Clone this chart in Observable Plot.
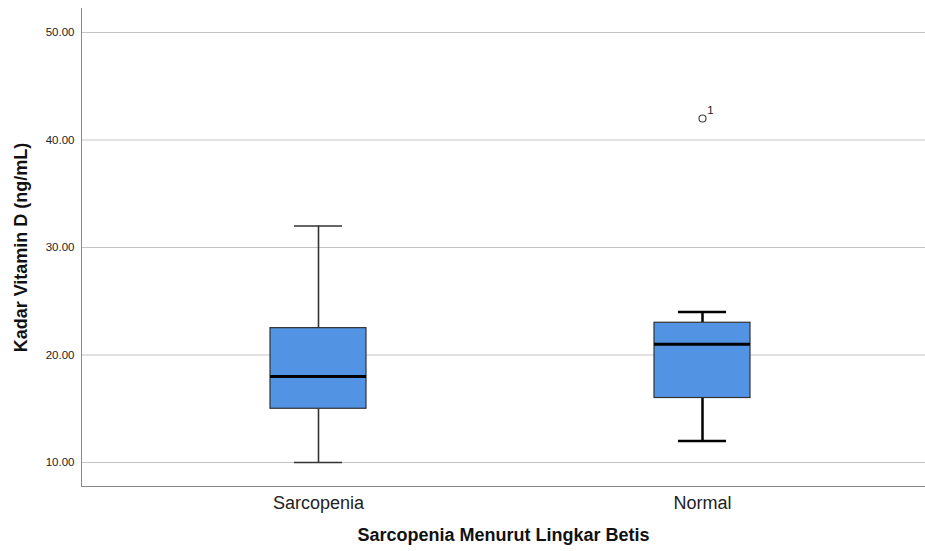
<!DOCTYPE html>
<html><head><meta charset="utf-8">
<script src="https://cdn.jsdelivr.net/npm/d3@7"></script>
<script src="https://cdn.jsdelivr.net/npm/@observablehq/plot@0.6"></script>
<style>
body{margin:0;background:#fff;font-family:"Liberation Sans",Arial,sans-serif;}
</style></head><body><div id="chart"></div>
<script>
const groups = ["Sarcopenia", "Normal"];
const mins = [10, 12];
const q1s = [15, 16];
const medians = [18, 21];
const q3s = [22.5, 23];
const maxs = [32, 24];
const outlierGroups = ["Normal"];
const outlierValues = [42];
const outlierLabels = ["1"];
const yTicks = [10, 20, 30, 40, 50];
const xTitle = "Sarcopenia Menurut Lingkar Betis";
const yTitle = "Kadar Vitamin D (ng/mL)";

const stats = groups.map((g, i) => ({group: g, min: mins[i], q1: q1s[i], median: medians[i], q3: q3s[i], max: maxs[i]}));
const outliers = outlierGroups.map((g, i) => ({group: g, value: outlierValues[i], label: outlierLabels[i]}));
const wsw = d => d.group === "Normal" ? 2.5 : 1.6;
const wst = d => d.group === "Normal" ? "#000" : "#333";

const chart = Plot.plot({
  width: 925, height: 551,
  marginLeft: 81, marginRight: 0, marginTop: 8, marginBottom: 65,
  style: {fontFamily: "'Liberation Sans', Arial, sans-serif", background: "#fff"},
  x: {domain: groups, range: [270, 750], paddingInner: 0.75, paddingOuter: 0, label: null},
  y: {domain: [7.77, 52.23], label: null},
  marks: [
    Plot.gridY(yTicks, {stroke: "#c4c4c4", strokeOpacity: 1, strokeWidth: 1}),
    Plot.axisY(yTicks, {tickSize: 0, tickPadding: 7, tickFormat: d3.format(".2f"), fontSize: 11.5, fill: "#222", label: null}),
    Plot.axisX({tickSize: 0, tickPadding: 10, fontSize: 18, fill: "#222", label: null}),
    Plot.frame({anchor: "left", stroke: "#888"}),
    Plot.frame({anchor: "bottom", stroke: "#888"}),
    Plot.ruleX(stats, {x: "group", y1: "min", y2: "q1", stroke: wst, strokeWidth: wsw}),
    Plot.ruleX(stats, {x: "group", y1: "q3", y2: "max", stroke: wst, strokeWidth: wsw}),
    Plot.tickY(stats, {x: "group", y: "min", stroke: wst, strokeWidth: wsw, insetLeft: 24, insetRight: 24}),
    Plot.tickY(stats, {x: "group", y: "max", stroke: wst, strokeWidth: wsw, insetLeft: 24, insetRight: 24}),
    Plot.barY(stats, {x: "group", y1: "q1", y2: "q3", fill: "#5393e3", stroke: "#333", strokeWidth: 1.2}),
    Plot.tickY(stats, {x: "group", y: "median", stroke: "#000", strokeWidth: 3}),
    Plot.dot(outliers, {x: "group", y: "value", r: 3.5, stroke: "#444", fill: "#fff", strokeWidth: 1.2}),
    Plot.text(outliers, {x: "group", y: "value", text: "label", dx: 8, dy: -8, fontSize: 11.5, fill: "#222"}),
    Plot.text([xTitle], {frameAnchor: "bottom", dy: 54, text: d => d, fontSize: 18, fontWeight: "bold", fill: "#111"}),
    Plot.text([yTitle], {frameAnchor: "left", dx: -60, text: d => d, rotate: -90, textAnchor: "middle", fontSize: 18, fontWeight: "bold", fill: "#111"})
  ]
});
document.getElementById("chart").appendChild(chart);
</script></body></html>
